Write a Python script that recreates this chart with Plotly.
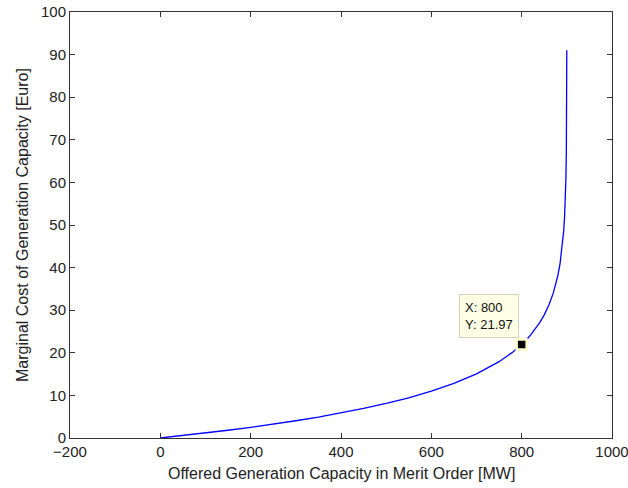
import plotly.graph_objects as go

# Values
capacity_mw = [0, 50, 100, 150, 200, 250, 300, 350, 400, 450, 500, 550, 600, 650, 700,
               750, 780, 800, 810, 820, 830, 840, 850, 860, 870, 875, 880, 885, 890,
               893, 895, 897, 898, 899, 899.5, 899.9]
marginal_cost = [0, 0.57, 1.18, 1.82, 2.51, 3.25, 4.05, 4.92, 5.88, 6.93, 8.11, 9.44, 10.99,
                 12.81, 15.04, 17.92, 20.15, 21.97, 23.0, 24.2, 25.55, 27.08, 28.9, 31.14,
                 34.01, 35.83, 38.07, 40.94, 45.0, 48.56, 51.93, 57.04, 61.09, 68.02,
                 74.96, 91.05]

tip_x = [800]
tip_y = [21.97]

x_ticks = [-200, 0, 200, 400, 600, 800, 1000]
x_tick_labels = ["\u2212200", "0", "200", "400", "600", "800", "1000"]
y_ticks = [0, 10, 20, 30, 40, 50, 60, 70, 80, 90, 100]

x_title = "Offered Generation Capacity in Merit Order [MW]"
y_title = "Marginal Cost of Generation Capacity [Euro]"

family = "Liberation Sans, Arial, sans-serif"
font = dict(family=family, size=15, color="#222222")
title_font = dict(family=family, size=16, color="#222222")

fig = go.Figure()
fig.add_trace(go.Scatter(x=capacity_mw, y=marginal_cost, mode="lines",
                         line=dict(color="#0000ff", width=1.3), showlegend=False,
                         hoverinfo="skip"))
fig.add_trace(go.Scatter(x=tip_x, y=tip_y, mode="markers",
                         marker=dict(symbol="square", size=10, color="black",
                                     line=dict(color="#ffffcc", width=2.5)),
                         showlegend=False, hoverinfo="skip"))

fig.add_annotation(x=tip_x[0], y=tip_y[0], xref="x", yref="y",
                   text="X: 800<br>Y: 21.97", showarrow=False,
                   xanchor="right", yanchor="bottom", xshift=-3, yshift=6,
                   align="left", bgcolor="#ffffe6", bordercolor="#d0d0bc",
                   borderwidth=1, borderpad=5,
                   font=dict(family=family, size=13, color="#111111"))

# Axis titles
fig.add_annotation(x=0.5, y=0, xref="paper", yref="paper", text=x_title,
                   showarrow=False, xanchor="center", yanchor="middle", yshift=-35,
                   font=title_font)
fig.add_annotation(x=0, y=0.5, xref="paper", yref="paper", text=y_title,
                   showarrow=False, xanchor="center", yanchor="middle", xshift=-48,
                   textangle=-90, font=title_font)

axis_common = dict(showline=True, linecolor="#333333", linewidth=1, mirror="ticks",
                   ticks="inside", ticklen=5, tickcolor="#333333", tickwidth=1,
                   showgrid=False, zeroline=False, tickfont=font, automargin=False,
                   ticklabeloverflow="allow")

fig.update_xaxes(range=[-200, 1000], tickvals=x_ticks, ticktext=x_tick_labels,
                 **axis_common)
fig.update_yaxes(range=[0, 100], tickvals=y_ticks, **axis_common)

fig.update_layout(width=628, height=488, margin=dict(l=70, r=16, t=12, b=50),
                  plot_bgcolor="white", paper_bgcolor="white", font=font)

fig.write_html("out.html", config={"displayModeBar": False},
               post_script="document.body.style.margin='0';")
